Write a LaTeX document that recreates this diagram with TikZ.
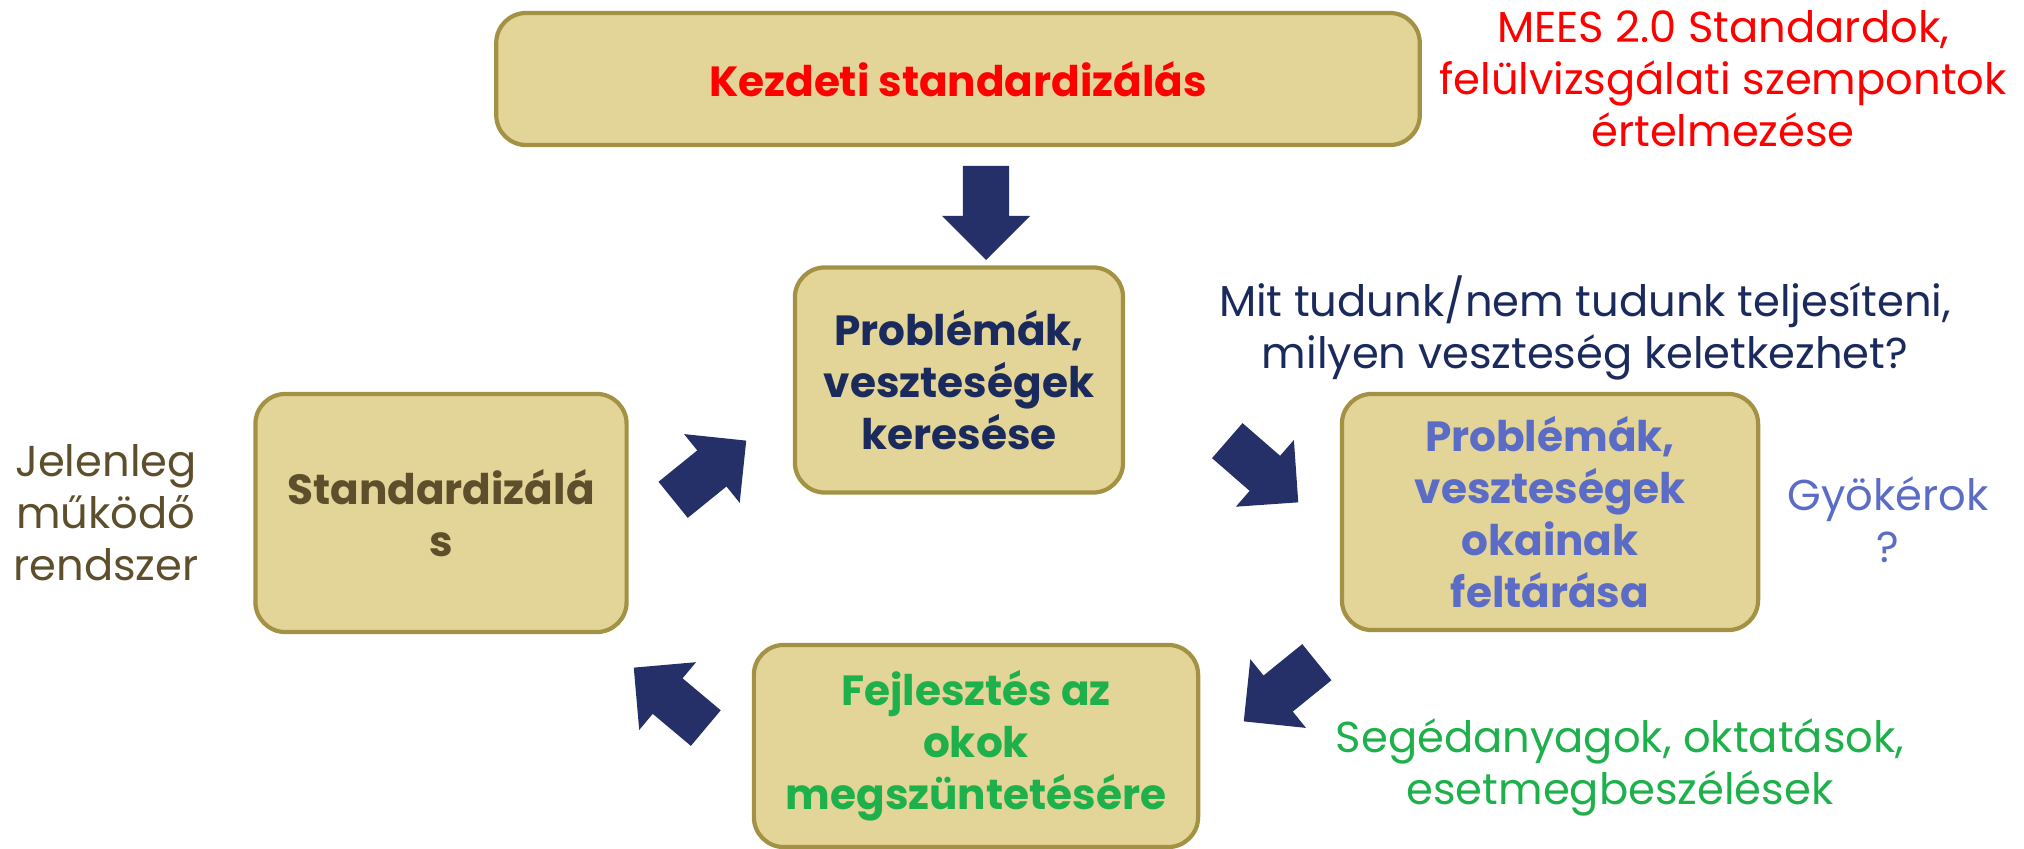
\documentclass[tikz,border=0pt]{standalone}
\usepackage{fontspec}
\setmainfont{Poppins}
\usetikzlibrary{shapes.arrows}

\definecolor{boxfill}{HTML}{E3D498}
\definecolor{boxline}{HTML}{A49244}
\definecolor{arrownavy}{HTML}{263068}
\definecolor{textnavy}{HTML}{1B2A5C}
\definecolor{textviolet}{HTML}{5B6CC6}
\definecolor{textolive}{HTML}{5E4F2C}
\definecolor{textgreen}{HTML}{1DB04B}

\begin{document}
\begin{tikzpicture}[x=0.01cm, y=-0.01cm,
    stepbox/.style={rectangle, rounded corners=0.3cm, fill=boxfill, draw=boxline,
        line width=1.2pt, align=center, font=\fontsize{12}{14.8}\selectfont\bfseries},
    note/.style={align=center, font=\fontsize{12.3}{14.8}\selectfont},
    bigarrow/.style={single arrow, fill=arrownavy, inner xsep=0pt, inner ysep=0.225cm,
        minimum height=0.94cm, single arrow head extend=0.21cm, single arrow tip angle=90,
        anchor=tip}]
    \useasboundingbox (0,0) rectangle (2024,849);

    % Boxes
    \node[stepbox, minimum width=9.23cm, minimum height=1.32cm, text=red] (kezdeti) at (958,79) {Kezdeti standardizálás};
    \node[stepbox, minimum width=3.28cm, minimum height=2.25cm, text=textnavy] (kereses) at (959,380) {Problémák,\\veszteségek\\keresése};
    \node[stepbox, minimum width=4.16cm, minimum height=2.36cm, text=textviolet] (okok) at (1550,512) {Problémák,\\veszteségek\\okainak\\feltárása};
    \node[stepbox, minimum width=4.44cm, minimum height=2.02cm, text=textgreen] (fejlesztes) at (976,746) {Fejlesztés az\\okok\\megszüntetésére};
    \node[stepbox, minimum width=3.71cm, minimum height=2.38cm, text=textolive] (standard) at (441,513) {Standardizálá\\s};

    % Side notes
    \node[note, text=red] (mees) at (1723,79) {MEES 2.0 Standardok,\\felülvizsgálati szempontok\\értelmezése};
    \node[note, text=textnavy] (mit) at (1585,328) {Mit tudunk/nem tudunk teljesíteni,\\milyen veszteség keletkezhet?};
    \node[note, text=textviolet] (gyoker) at (1888,520) {Gyökérok\\?};
    \node[note, text=textgreen] (seged) at (1620,767) {Segédanyagok, oktatások,\\esetmegbeszélések};
    \node[note, text=textolive] (jelen) at (106,513) {Jelenleg\\működő\\rendszer};

    % Block arrows between the steps (placed by their tips)
    \node[bigarrow, rotate=-90] (a1) at (986,261) {};
    \node[bigarrow, rotate=-41] (a2) at (1299,503) {};
    \node[bigarrow, rotate=-141] (a3) at (1243,722) {};
    \node[bigarrow, rotate=140] (a4) at (633,667) {};
    \node[bigarrow, rotate=39] (a5) at (747,440) {};
\end{tikzpicture}
\end{document}
